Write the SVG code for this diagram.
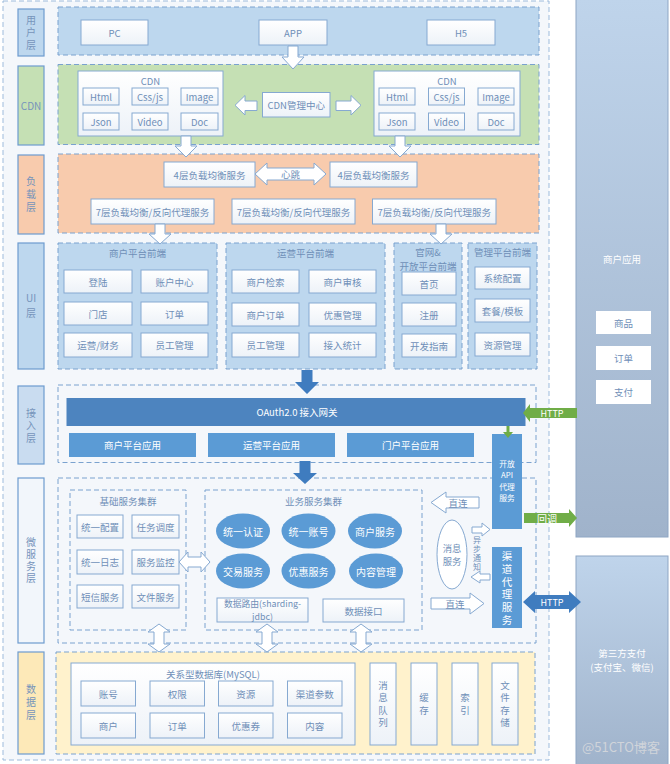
<svg xmlns="http://www.w3.org/2000/svg" width="670" height="764" viewBox="0 0 670 764">
<defs>
<linearGradient id="wb" x1="0" y1="0" x2="0" y2="1"><stop offset="0" stop-color="#ffffff"/><stop offset="1" stop-color="#edf2f8"/></linearGradient>
<linearGradient id="rp" x1="0" y1="0" x2="0" y2="1"><stop offset="0" stop-color="#bfd4eb"/><stop offset="1" stop-color="#a0b3cb"/></linearGradient>
<style>
text{font-family:"Noto Sans CJK SC","Noto Sans",sans-serif;font-size:9.5px;fill:#6f8fb8;text-anchor:middle;dominant-baseline:central}
.v{writing-mode:vertical-rl}
.b{fill:url(#wb);stroke:#86a9d1;stroke-width:1}
.lbl{stroke:#6d9bcf;stroke-width:1.2}
.dc{stroke:#7aa2cf;stroke-width:1;stroke-dasharray:5 3}
.oa{fill:#fff;stroke:#86a9d1;stroke-width:1}
.el{fill:#5b9bd5}
.bar{fill:#5b9bd5}
.lt{font-size:10px;fill:#7694bb}
.ga{fill:#70ad47}
.ba{fill:#3f7cbf}
.rb{fill:url(#rp);stroke:#8ea6c4;stroke-width:1}
.w{fill:#fff}
</style>
</defs>
<rect x="0" y="0" width="670" height="764" fill="#ffffff"/>
<rect x="3" y="1" width="546" height="759" fill="#f4f7fb" stroke="#9dbbdc" stroke-dasharray="5 3"/>

<g id="layer-labels">
<rect class="lbl" x="18" y="9" width="26" height="47" fill="#bdd7ee"/>
<text class="lt v" x="31" y="33.75" style="letter-spacing:2.5px">用户层</text>
<rect class="lbl" x="18" y="66" width="26" height="79" fill="#c5e0b4"/>
<text class="lt" x="31" y="105.5">CDN</text>
<rect class="lbl" x="18" y="155" width="26" height="79" fill="#f8cbad"/>
<text class="lt v" x="31" y="195.5" style="letter-spacing:3px">负载层</text>
<rect class="lbl" x="18" y="243" width="26" height="126" fill="#bdd7ee"/>
<text class="lt" x="31" y="297.5">UI</text>
<text class="lt" x="31" y="312.5">层</text>
<rect class="lbl" x="18" y="386" width="26" height="78" fill="#c9dcf0"/>
<text class="lt v" x="31" y="426.75" style="letter-spacing:2.5px">接入层</text>
<rect class="lbl" x="18" y="478" width="26" height="165" fill="#f2f6fb"/>
<text class="lt v" x="31" y="561" style="letter-spacing:2px">微服务层</text>
<rect class="lbl" x="18" y="652" width="26" height="102" fill="#fde9b8"/>
<text class="lt v" x="31" y="703.5" style="letter-spacing:3px">数据层</text>
</g>

<g id="user-layer">
<rect class="dc" x="58" y="7" width="481" height="48" fill="#bdd7ee"/>
<rect class="b" x="81" y="20" width="67" height="25"/><text x="114.5" y="32.5">PC</text>
<rect class="b" x="259" y="20" width="68" height="25"/><text x="293" y="32.5">APP</text>
<rect class="b" x="427" y="20" width="68" height="25"/><text x="461" y="32.5">H5</text>
</g>

<g id="cdn-layer">
<rect class="dc" x="58" y="64.5" width="481" height="80" fill="#c5e0b4"/>
<g id="cdn-left">
<rect class="b" x="78" y="71" width="145" height="65"/><text x="150.5" y="80.5" fill="#5f83ad">CDN</text>
<rect class="b" x="83" y="88" width="36" height="17"/><text x="101" y="96.5">Html</text>
<rect class="b" x="132" y="88" width="36" height="17"/><text x="150" y="96.5">Css/js</text>
<rect class="b" x="181" y="88" width="37" height="17"/><text x="199.5" y="96.5">Image</text>
<rect class="b" x="83" y="113" width="36" height="17"/><text x="101" y="121.5">Json</text>
<rect class="b" x="132" y="113" width="36" height="17"/><text x="150" y="121.5">Video</text>
<rect class="b" x="181" y="113" width="37" height="17"/><text x="199.5" y="121.5">Doc</text>
</g>
<g id="cdn-center">
<rect class="b" x="262.5" y="92.5" width="67.5" height="24.5"/><text x="296.25" y="104.75">CDN管理中心</text>
</g>
<g id="cdn-right">
<rect class="b" x="374" y="71" width="146" height="65"/><text x="447" y="80.5" fill="#5f83ad">CDN</text>
<rect class="b" x="379" y="88" width="36" height="17"/><text x="397" y="96.5">Html</text>
<rect class="b" x="428.5" y="88" width="36" height="17"/><text x="446.5" y="96.5">Css/js</text>
<rect class="b" x="478" y="88" width="36" height="17"/><text x="496" y="96.5">Image</text>
<rect class="b" x="379" y="113" width="36" height="17"/><text x="397" y="121.5">Json</text>
<rect class="b" x="428.5" y="113" width="36" height="17"/><text x="446.5" y="121.5">Video</text>
<rect class="b" x="478" y="113" width="36" height="17"/><text x="496" y="121.5">Doc</text>
</g>
</g>

<g id="load-layer">
<rect class="dc" x="58" y="154" width="481" height="79" fill="#f8cbad"/>
<rect class="b" x="164" y="162" width="91" height="25"/><text x="209.5" y="174.5">4层负载均衡服务</text>
<rect class="b" x="330" y="162" width="87" height="25"/><text x="373.5" y="174.5">4层负载均衡服务</text>
<rect class="b" x="91" y="199" width="123" height="25"/><text x="152.5" y="211.5">7层负载均衡/反向代理服务</text>
<rect class="b" x="232" y="199" width="123" height="25"/><text x="293.5" y="211.5">7层负载均衡/反向代理服务</text>
<rect class="b" x="372.5" y="199" width="123.5" height="25"/><text x="434.25" y="211.5">7层负载均衡/反向代理服务</text>
</g>

<g id="ui-merchant">
<rect class="dc" x="58" y="243" width="159" height="126" fill="#bdd7ee"/>
<text x="137.5" y="253">商户平台前端</text>
<rect class="b" x="64" y="270" width="68" height="23"/><text x="98" y="281.5">登陆</text>
<rect class="b" x="141" y="270" width="67" height="23"/><text x="174.5" y="281.5">账户中心</text>
<rect class="b" x="64" y="302" width="68" height="23"/><text x="98" y="313.5">门店</text>
<rect class="b" x="141" y="302" width="67" height="23"/><text x="174.5" y="313.5">订单</text>
<rect class="b" x="64" y="333" width="68" height="24"/><text x="98" y="345">运营/财务</text>
<rect class="b" x="141" y="333" width="67" height="24"/><text x="174.5" y="345">员工管理</text>
</g>
<g id="ui-ops">
<rect class="dc" x="226" y="243" width="159" height="126" fill="#bdd7ee"/>
<text x="305.5" y="253">运营平台前端</text>
<rect class="b" x="232" y="270" width="67" height="23"/><text x="265.5" y="281.5">商户检索</text>
<rect class="b" x="309" y="270" width="67" height="23"/><text x="342.5" y="281.5">商户审核</text>
<rect class="b" x="232" y="303" width="67" height="23"/><text x="265.5" y="314.5">商户订单</text>
<rect class="b" x="309" y="303" width="67" height="23"/><text x="342.5" y="314.5">优惠管理</text>
<rect class="b" x="232" y="333" width="67" height="24"/><text x="265.5" y="345">员工管理</text>
<rect class="b" x="309" y="333" width="67" height="24"/><text x="342.5" y="345">接入统计</text>
</g>
<g id="ui-portal">
<rect class="dc" x="394" y="243" width="68" height="126" fill="#bdd7ee"/>
<text x="428" y="251.5">官网&amp;</text>
<text x="428" y="265.5">开放平台前端</text>
<rect class="b" x="402" y="272" width="54" height="23"/><text x="429" y="283.5">首页</text>
<rect class="b" x="402" y="303" width="54" height="23"/><text x="429" y="314.5">注册</text>
<rect class="b" x="402" y="334" width="54" height="23"/><text x="429" y="345.5">开发指南</text>
</g>
<g id="ui-admin">
<rect class="dc" x="468" y="243" width="69" height="126" fill="#bdd7ee"/>
<text x="502.5" y="252">管理平台前端</text>
<rect class="b" x="475" y="267" width="55" height="22"/><text x="502.5" y="278">系统配置</text>
<rect class="b" x="475" y="299" width="55" height="23"/><text x="502.5" y="310.5">套餐/模板</text>
<rect class="b" x="475" y="333" width="55" height="23"/><text x="502.5" y="344.5">资源管理</text>
</g>

<g id="access-layer">
<rect class="dc" x="58" y="385" width="478" height="77.5" fill="none"/>
<rect x="66.5" y="398" width="459" height="28" fill="#4d84bf"/><text class="w" x="297" y="412">OAuth2.0 接入网关</text>
<rect class="bar" x="69" y="433" width="127" height="24"/><text class="w" x="132.5" y="445">商户平台应用</text>
<rect class="bar" x="208" y="433" width="127" height="24"/><text class="w" x="271.5" y="445">运营平台应用</text>
<rect class="bar" x="347" y="433" width="127" height="24"/><text class="w" x="410.5" y="445">门户平台应用</text>
</g>

<g id="micro-layer">
<rect class="dc" x="58" y="478" width="478" height="165" fill="none"/>
</g>
<g id="base-cluster">
<rect class="dc" x="70" y="490" width="116" height="140" fill="none"/>
<text x="128" y="501">基础服务集群</text>
<rect class="b" x="77" y="515" width="46" height="23"/><text x="100" y="526.5">统一配置</text>
<rect class="b" x="132" y="515" width="47" height="23"/><text x="155.5" y="526.5">任务调度</text>
<rect class="b" x="77" y="550" width="46" height="24"/><text x="100" y="562">统一日志</text>
<rect class="b" x="132" y="550" width="47" height="24"/><text x="155.5" y="562">服务监控</text>
<rect class="b" x="77" y="585" width="46" height="23"/><text x="100" y="596.5">短信服务</text>
<rect class="b" x="132" y="585" width="47" height="23"/><text x="155.5" y="596.5">文件服务</text>
</g>
<g id="biz-cluster">
<rect class="dc" x="205" y="490" width="217" height="140" fill="none"/>
<text x="313.5" y="501">业务服务集群</text>
<ellipse class="el" cx="243" cy="531" rx="27" ry="17.5"/><text class="w" x="243" y="531" style="font-size:10px">统一认证</text>
<ellipse class="el" cx="308.5" cy="531" rx="27" ry="17.5"/><text class="w" x="308.5" y="531" style="font-size:10px">统一账号</text>
<ellipse class="el" cx="375" cy="531" rx="27" ry="17.5"/><text class="w" x="375" y="531" style="font-size:10px">商户服务</text>
<ellipse class="el" cx="243" cy="571" rx="27" ry="17.5"/><text class="w" x="243" y="571" style="font-size:10px">交易服务</text>
<ellipse class="el" cx="308.5" cy="571" rx="27" ry="17.5"/><text class="w" x="308.5" y="571" style="font-size:10px">优惠服务</text>
<ellipse class="el" cx="376" cy="571" rx="27" ry="17.5"/><text class="w" x="376" y="571" style="font-size:10px">内容管理</text>
<rect class="b" x="217" y="598" width="91" height="24"/>
<text x="262.5" y="603.5" style="font-size:8.8px">数据路由(sharding-</text>
<text x="262.5" y="616.5" style="font-size:8.8px">jdbc)</text>
<rect class="b" x="323" y="599" width="81" height="23"/><text x="363.5" y="610.5">数据接口</text>
</g>
<g id="msg-service">
<ellipse cx="452" cy="554.5" rx="15" ry="34.5" fill="#fff" stroke="#86a9d1"/>
<text x="452" y="547.5" style="font-size:9.3px">消息</text>
<text x="452" y="561" style="font-size:9.3px">服务</text>
</g>
<g id="open-api">
<rect class="bar" x="492" y="434" width="30" height="95"/>
<text class="w" x="507" y="463" style="font-size:7.8px">开放</text>
<text class="w" x="507" y="474.5" style="font-size:7.8px">API</text>
<text class="w" x="507" y="486" style="font-size:7.8px">代理</text>
<text class="w" x="507" y="497.5" style="font-size:7.8px">服务</text>
</g>
<g id="channel-proxy">
<rect class="bar" x="492" y="547" width="30" height="81"/>
<text class="w v" x="507" y="589.15" style="font-size:10.5px;letter-spacing:2.3px">渠道代理服务</text>
</g>

<g id="data-layer">
<rect class="dc" x="56" y="652" width="479" height="102" fill="#fff2cc"/>
</g>
<g id="mysql">
<rect class="b" x="71" y="663" width="284" height="82"/>
<text x="213" y="674">关系型数据库(MySQL)</text>
<rect class="b" x="81" y="681" width="54.5" height="25"/><text x="108.25" y="693.5">账号</text>
<rect class="b" x="150" y="681" width="54.5" height="25"/><text x="177.25" y="693.5">权限</text>
<rect class="b" x="218.5" y="681" width="54.5" height="25"/><text x="245.75" y="693.5">资源</text>
<rect class="b" x="287.5" y="681" width="54.5" height="25"/><text x="314.75" y="693.5">渠道参数</text>
<rect class="b" x="81" y="713" width="54.5" height="25"/><text x="108.25" y="725.5">商户</text>
<rect class="b" x="150" y="713" width="54.5" height="25"/><text x="177.25" y="725.5">订单</text>
<rect class="b" x="218.5" y="713" width="54.5" height="25"/><text x="245.75" y="725.5">优惠券</text>
<rect class="b" x="287.5" y="713" width="54.5" height="25"/><text x="314.75" y="725.5">内容</text>
</g>
<g id="mq">
<rect class="b" x="370" y="663" width="26" height="82"/>
<text class="v" x="383" y="705.25" style="letter-spacing:3px">消息队列</text>
</g>
<g id="cache">
<rect class="b" x="411" y="663" width="26" height="82"/>
<text class="v" x="424" y="705.25" style="letter-spacing:3.5px">缓存</text>
</g>
<g id="index">
<rect class="b" x="452" y="663" width="26" height="82"/>
<text class="v" x="465" y="705.25" style="letter-spacing:3.5px">索引</text>
</g>
<g id="file-store">
<rect class="b" x="492" y="663" width="26" height="82"/>
<text class="v" x="505" y="705.25" style="letter-spacing:3px">文件存储</text>
</g>

<g id="merchant-app">
<rect class="rb" x="576" y="-1" width="92" height="538"/>
<text class="w" x="622" y="259">商户应用</text>
<rect x="596" y="311" width="55" height="23" fill="#fff"/><text x="623.5" y="322.5">商品</text>
<rect x="596" y="346" width="55" height="24" fill="#fff"/><text x="623.5" y="358">订单</text>
<rect x="596" y="380" width="55" height="24" fill="#fff"/><text x="623.5" y="392">支付</text>
</g>
<g id="third-pay">
<rect class="rb" x="576" y="556" width="92" height="210"/>
<text class="w" x="622" y="653">第三方支付</text>
<text class="w" x="622" y="667">(支付宝、微信)</text>
</g>
<text x="621" y="746" style="font-size:13px;fill:#d0d4da">@51CTO博客</text>

<g id="connectors">
<path class="oa" d="M288,46 H298 V57 H304 L293,69 L282,57 H288 Z"/>
<path class="oa" d="M181,136 H191 V146 H197 L186,157 L175,146 H181 Z"/>
<path class="oa" d="M395,136 H405 V146 H411 L400,157 L389,146 H395 Z"/>
<path class="oa" d="M155,224 H165 V234 H171 L160,244 L149,234 H155 Z"/>
<path class="oa" d="M436,224 H446 V234 H452 L441,244 L430,234 H436 Z"/>
<path class="oa" d="M257,101 H245 V95.5 L235,105.3 L245,115 V110.5 H257 Z"/>
<path class="oa" d="M336,101 H351 V95.5 L361,105.3 L351,115 V110.5 H336 Z"/>
<path class="oa" d="M255,174 L267,163 V168 H314 V163 L326,174 L314,185 V180 H267 V185 Z"/>
<text x="290.5" y="173.5">心跳</text>
<path class="ba" d="M301.5,370 H312.5 V382 H319 L307,394 L295,382 H301.5 Z"/>
<path class="ba" d="M299.5,461 H310.5 V473 H317 L305,484 L293,473 H299.5 Z"/>
<path class="oa" d="M179,562 L188,552 V557 H201 V552 L210,562 L201,572 V567 H188 V572 Z"/>
<path class="oa" d="M159,624 L170,632 H164 V644 H170 L159,652 L148,644 H154 V632 H148 Z"/>
<path class="oa" d="M267,624 L278,632 H272 V644 H278 L267,652 L256,644 H262 V632 H256 Z"/>
<path class="oa" d="M361,624 L372,632 H366 V644 H372 L361,652 L350,644 H356 V632 H350 Z"/>
<path class="oa" d="M479,497 H446 V492 L431,502.5 L446,513 V508 H479 Z"/>
<text x="458" y="502.5">直连</text>
<path class="oa" d="M431,598 H470 V593 L484,603.5 L470,614 V609 H431 Z"/>
<text x="455" y="603.5">直连</text>
<path class="oa" d="M472,527 H482 V523 L490,529.5 L482,536 V533 H472 Z"/>
<path class="oa" d="M490,574 H480 V571 L471,577 L480,583 V580 H490 Z"/>
<text class="v" x="477" y="554" style="font-size:8px;letter-spacing:1px">异步通知</text>
<path class="ga" d="M577,408 H530 V404 L523,413 L530,422 V418 H577 Z"/>
<text class="w" x="552" y="413" style="font-size:9px">HTTP</text>
<path class="ga" d="M506.5,426 H509.5 V432 H513 L508,438 L503,432 H506.5 Z"/>
<path class="ga" d="M524,513 H569 V509 L577,518 L569,527 V523 H524 Z"/>
<text class="w" x="547" y="518" style="font-size:10px">回调</text>
<path class="ba" d="M523,602 L535,591 V595 H569 V591 L581,602 L569,613 V609 H535 V613 Z"/>
<text class="w" x="552" y="602" style="font-size:9px">HTTP</text>
</g>
</svg>
